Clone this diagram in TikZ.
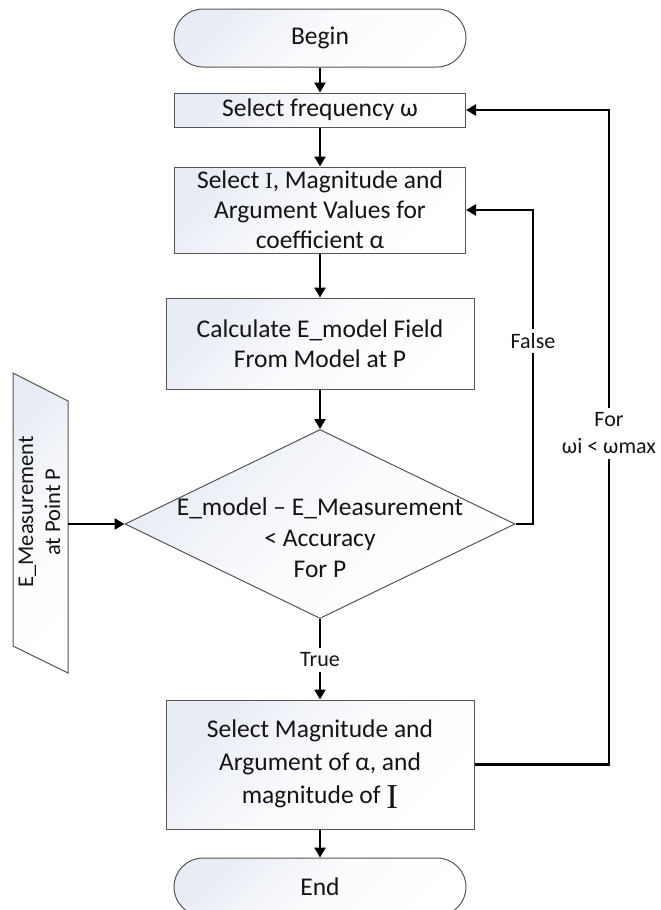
\documentclass[tikz,border=0pt]{standalone}
\usepackage{fontspec}
\setmainfont{Carlito}
\newfontfamily\serifI{Liberation Serif}
\usetikzlibrary{arrows.meta,shapes.geometric}

\definecolor{boxshade}{RGB}{232,236,244}
\definecolor{boxmid}{RGB}{250,251,253}
\definecolor{edgegray}{RGB}{85,85,85}
\definecolor{inkcol}{RGB}{20,20,20}

\newcommand\mainsz{\fontsize{25.5}{30}\selectfont}
\newcommand\lblsz{\fontsize{22}{27}\selectfont}
\newcommand\smallI{{\serifI\fontsize{23}{23}\selectfont I}}
\newcommand\bigI{\raisebox{-5pt}{\serifI\fontsize{35}{35}\selectfont I}}

\tikzset{
  shaded/.style={top color=boxshade, bottom color=white, middle color=boxmid, shading angle=45},
  procbox/.style={rectangle, draw=edgegray, line width=1pt, shaded, text=inkcol,
                  inner sep=0pt, align=center, font=\mainsz},
  termbox/.style={procbox, rounded corners=29pt},
  conn/.style={line width=2.8pt, draw=black},
  arrowed/.style={conn, -{Triangle[length=10pt,width=11pt]}},
  lbl/.style={font=\lblsz, text=inkcol, align=center, inner xsep=3pt, inner ysep=4.5pt},
}

\begin{document}
\begin{tikzpicture}[x=1pt, y=-1pt]
\useasboundingbox (0,0) rectangle (661,910);

% main column
\node[termbox, minimum width=292pt, minimum height=58pt] (begin) at (320,38) {Begin};
\node[procbox, minimum width=291pt, minimum height=34pt] (selfreq) at (320,110) {Select frequency ω};
\node[procbox, minimum width=291pt, minimum height=86pt] (selI) at (320,210)
  {Select \smallI, Magnitude and\\Argument Values for\\coefficient α};
\node[procbox, minimum width=308pt, minimum height=91pt] (calc) at (320,343.5)
  {Calculate E\_model Field\\From Model at P};
\node[diamond, draw=edgegray, line width=1pt, shaded, inner sep=0pt,
      minimum width=390pt, minimum height=189pt] (cond) at (320,524) {};
\node[font=\fontsize{25.5}{31}\selectfont, text=inkcol, align=center] (condtxt) at (320,538)
  {E\_model – E\_Measurement\\< Accuracy\\For P};
\node[procbox, font=\fontsize{25.5}{33}\selectfont, minimum width=308pt, minimum height=129pt] (selmag) at (320,764.5)
  {Select Magnitude and\\Argument of α, and\\magnitude of \bigI};
\node[termbox, minimum width=292pt, minimum height=58pt] (end) at (320,887) {End};

% measured input
\path[draw=edgegray, line width=1pt, shaded] (13,373) -- (68,401) -- (68,673) -- (13,646) -- cycle;
\node[rotate=90, font=\fontsize{22.5}{27}\selectfont, text=inkcol, align=center] (meastxt) at (39.5,512)
  {E\_Measurement\\at Point P};
\coordinate (measout) at (68,524);

% branch labels
\node[lbl] (truelbl) at (320,660) {True};
\node[lbl] (falselbl) at (533,341) {False};
\node[lbl] (forlbl) at (609,433.5) {For\\ωi < ωmax};

% connectors
\draw[arrowed] (begin.south) -- (selfreq.north);
\draw[arrowed] (selfreq.south) -- (selI.north);
\draw[arrowed] (selI.south) -- (calc.north);
\draw[arrowed] (calc.south) -- (cond.north);
\draw[arrowed] (measout) -- (cond.west);
\draw[conn] (cond.south) -- (truelbl.north);
\draw[arrowed] (truelbl.south) -- (selmag.north);
\draw[arrowed] (selmag.south) -- (end.north);
\draw[conn] (cond.east) -| (falselbl.south);
\draw[arrowed] (falselbl.north) |- (selI.east);
\draw[conn] (selmag.east) -| (forlbl.south);
\draw[arrowed] (forlbl.north) |- (selfreq.east);
\end{tikzpicture}
\end{document}
